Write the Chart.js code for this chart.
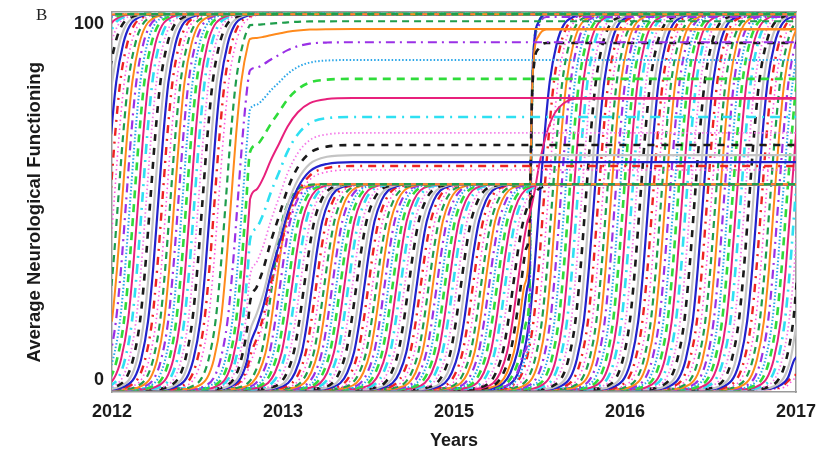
<!DOCTYPE html>
<html>
<head>
<meta charset="utf-8">
<script src="https://cdn.jsdelivr.net/npm/chart.js@4.4.1/dist/chart.umd.min.js"></script>
<style>
  html, body { margin: 0; padding: 0; background: #fff; }
  #wrap { position: relative; width: 820px; height: 453px; }
  #panel { position: absolute; left: 36px; top: 5px; font-family: 'Liberation Serif', 'Times New Roman', serif; font-size: 17px; color: #222; }
</style>
</head>
<body>
<div id="wrap">
  <canvas id="c" width="820" height="453"></canvas>
  <div id="panel">B</div>
</div>
<script>
// ---- axis labels ----
const YEAR_LABELS = ['2012', '2013', '2015', '2016', '2017'];
const Y_TICKS = [0, 100];

// ---- levels of the trajectories ----
const LOW = -2.6;          // baseline before recovery starts
const HIGH = 102.8;        // full recovery
const MID_PLATEAU = 55;    // ceiling reached between the two breaks

// shared recovery curve: [offset from its midpoint (years axis units), fraction of the rise]
const RISE = [[-0.28, 0], [-0.2, 0.007], [-0.14, 0.03], [-0.1, 0.08], [-0.06, 0.18], [-0.03, 0.32],
              [0, 0.5], [0.03, 0.68], [0.06, 0.82], [0.1, 0.92], [0.14, 0.97], [0.2, 0.993], [0.28, 1]];
// slow approach to a new level after the first break: [offset from the break, fraction]
const SETTLE = [[0, 0], [0.04, 0.1], [0.08, 0.22], [0.12, 0.38], [0.17, 0.55], [0.22, 0.72],
                [0.28, 0.86], [0.35, 0.95], [0.45, 0.99], [0.6, 1]];
// quicker approach after the second break
const SETTLE_FAST = [[0, 0], [0.03, 0.2], [0.06, 0.45], [0.1, 0.7], [0.15, 0.88], [0.2, 0.96], [0.28, 1]];
// abrupt jump to a new level after a break
const JUMP = [[0, 0], [0.008, 0.35], [0.016, 0.7], [0.03, 0.9], [0.055, 0.97], [0.1, 1]];

const BREAK_1 = 0.807;
const BREAK_2 = 2.44;

// cohorts recovering fully before the first break
const A_FIRST_MID = -0.27, A_STEP = 0.0235, A_COUNT = 39;

// cohorts caught mid-recovery by the first break
const F1_MIDS     = [0.665, 0.696, 0.735, 0.763, 0.785, 0.806, 0.824, 0.841, 0.856, 0.877, 0.892, 0.905, 0.918];
const F1_PLATEAUS = [100.8, 98.6, 94.9, 89.9, 84.6, 79.2, 73.9, 69.4, 66.0, 63.2, 61.2, 60.1, 59.0];

// cohorts limited to the middle ceiling
const B_FIRST_MID = 0.935, B_STEP = 0.0235, B_COUNT = 61;

// cohorts lifted by the second break
const F2_MIDS     = [2.37, 2.39, 2.41, 2.43, 2.45, 2.47, 2.49];
const F2_PLATEAUS = [79.0, 94.7, 98.5, 102.8, 102.8, 102.0, 102.8];
const F2_SHAPES   = ['settle', 'jump', 'jump', 'jump', 'jump', 'jump', 'jump'];
const F2_STYLES   = ['magenta', 'blackDash', 'orange', 'blue', 'greenDash', 'purpleDashDot', 'cyanDotted'];

// cohorts recovering fully after the second break
const C_FIRST_MID = 2.5, C_STEP = 0.0245, C_COUNT = 68, C_STYLE_OFFSET = 10;

// ---- line styles ----
const STYLES = {
  darkGreenDash: { color: '#1f9e4c', dash: [7, 5], width: 2.2 },
  orange:        { color: '#ff8a1c', dash: [], width: 2 },
  purpleDashDot: { color: '#9a30e6', dash: [9, 5, 2, 5], width: 2.2 },
  cyanDotted:    { color: '#2aa6e8', dash: [1.5, 2], width: 2 },
  greenDash:     { color: '#2fdc3a', dash: [8, 6], width: 2.6 },
  magenta:       { color: '#e8207c', dash: [], width: 2 },
  cyanDashDot:   { color: '#2ee0f2', dash: [10, 6, 2, 6], width: 2.6 },
  pinkDotted:    { color: '#f47ae8', dash: [1.5, 2.5], width: 1.8 },
  blackDash:     { color: '#1a1a1a', dash: [7, 7], width: 2.6 },
  gray:          { color: '#c4c4c4', dash: [], width: 2.2 },
  blue:          { color: '#2222cc', dash: [], width: 2.2 },
  redDashDot:    { color: '#ee2222', dash: [8, 6, 2, 6], width: 2.4 },
  pinkDotted2:   { color: '#ff55dd', dash: [1.5, 3], width: 1.6 }
};
const STYLE_CYCLE = ['darkGreenDash', 'orange', 'purpleDashDot', 'cyanDotted', 'greenDash', 'magenta',
                     'cyanDashDot', 'pinkDotted', 'blackDash', 'gray', 'blue', 'redDashDot', 'pinkDotted2'];

const X_START = -0.05, X_END = 4.05;

// value of the shared recovery curve at time t
function riseValue(mid, lo, hi, t) {
  const d = t - mid;
  if (d <= RISE[0][0]) return lo;
  for (let i = 1; i < RISE.length; i++) {
    if (d <= RISE[i][0]) {
      const [d0, f0] = RISE[i - 1], [d1, f1] = RISE[i];
      return lo + (f0 + (f1 - f0) * (d - d0) / (d1 - d0)) * (hi - lo);
    }
  }
  return hi;
}

function risePoints(mid, lo, hi, until) {
  const pts = [{ x: X_START, y: riseValue(mid, lo, hi, X_START) }];
  for (const [d, f] of RISE) {
    const x = mid + d;
    if (x > X_START && x < until) pts.push({ x, y: lo + f * (hi - lo) });
  }
  return pts;
}

function fullCurve(mid, hi) {
  const pts = risePoints(mid, LOW, hi, X_END);
  pts.push({ x: X_END, y: hi });
  return pts;
}

function brokenCurve(mid, hiBefore, brk, plateau, shape) {
  const pts = risePoints(mid, LOW, hiBefore, brk);
  const h = riseValue(mid, LOW, hiBefore, brk);
  pts.push({ x: brk, y: h });
  for (const [d, f] of shape) {
    if (d > 0) pts.push({ x: brk + d, y: h + f * (plateau - h) });
  }
  pts.push({ x: X_END, y: plateau });
  return pts;
}

const datasets = [];
function addLine(points, styleName) {
  const s = STYLES[styleName];
  datasets.push({
    data: points,
    borderColor: s.color,
    borderDash: s.dash,
    borderWidth: s.width,
    pointRadius: 0,
    fill: false,
    cubicInterpolationMode: 'monotone'
  });
}

let styleIdx = 0;
for (let i = 0; i < A_COUNT; i++, styleIdx++) {
  addLine(fullCurve(A_FIRST_MID + i * A_STEP, HIGH), STYLE_CYCLE[styleIdx % 13]);
}
for (let i = 0; i < F1_MIDS.length; i++, styleIdx++) {
  addLine(brokenCurve(F1_MIDS[i], HIGH, BREAK_1, F1_PLATEAUS[i], SETTLE), STYLE_CYCLE[styleIdx % 13]);
}
for (let i = 0; i < B_COUNT; i++, styleIdx++) {
  addLine(fullCurve(B_FIRST_MID + i * B_STEP, MID_PLATEAU), STYLE_CYCLE[styleIdx % 13]);
}
for (let i = 0; i < F2_MIDS.length; i++) {
  const shape = F2_SHAPES[i] === 'jump' ? JUMP : SETTLE_FAST;
  addLine(brokenCurve(F2_MIDS[i], MID_PLATEAU, BREAK_2, F2_PLATEAUS[i], shape), F2_STYLES[i]);
}
for (let i = 0; i < C_COUNT; i++) {
  addLine(fullCurve(C_FIRST_MID + i * C_STEP, HIGH), STYLE_CYCLE[(i + C_STYLE_OFFSET) % 13]);
}

const TICK_FONT = { family: "'Liberation Sans', Arial, sans-serif", weight: 'bold', size: 18 };
const FRAME = { display: true, color: '#9a9a9a', width: 1.5 };

Chart.defaults.font.family = "'Liberation Sans', Arial, sans-serif";

new Chart(document.getElementById('c'), {
  type: 'line',
  data: { datasets },
  options: {
    responsive: false,
    animation: false,
    events: [],
    plugins: { legend: { display: false }, tooltip: { enabled: false } },
    layout: { padding: 0 },
    scales: {
      x: {
        type: 'linear', position: 'bottom', min: 0, max: 4,
        afterBuildTicks: s => { s.ticks = YEAR_LABELS.map((_, i) => ({ value: i })); },
        ticks: { callback: v => YEAR_LABELS[v], font: TICK_FONT, color: '#1a1a1a', padding: 9, maxRotation: 0, autoSkip: false },
        grid: { display: false, drawTicks: false },
        border: FRAME,
        title: { display: true, text: 'Years', font: TICK_FONT, color: '#1a1a1a', padding: { top: 0, bottom: 1 } },
        afterFit: s => { s.height = 61; s.paddingLeft = 0; s.paddingRight = 0; }
      },
      y: {
        type: 'linear', position: 'left', min: -3.4, max: 103.4,
        afterBuildTicks: s => { s.ticks = Y_TICKS.map(v => ({ value: v })); },
        ticks: { font: TICK_FONT, color: '#1a1a1a', padding: 8 },
        grid: { display: false, drawTicks: false },
        border: FRAME,
        title: { display: true, text: 'Average Neurological Functioning    ', font: { ...TICK_FONT, size: 18.5 }, color: '#1a1a1a', padding: { top: 24, bottom: 0 } },
        afterFit: s => { s.width = 112; s.paddingTop = 0; s.paddingBottom = 0; }
      },
      xTop: {
        type: 'linear', position: 'top', min: 0, max: 4,
        ticks: { display: false }, grid: { display: false, drawTicks: false }, border: FRAME,
        afterFit: s => { s.height = 12; s.paddingLeft = 0; s.paddingRight = 0; }
      },
      yRight: {
        type: 'linear', position: 'right', min: -3.4, max: 103.4,
        ticks: { display: false }, grid: { display: false, drawTicks: false }, border: FRAME,
        afterFit: s => { s.width = 24; s.paddingTop = 0; s.paddingBottom = 0; }
      }
    }
  }
});
</script>
</body>
</html>
